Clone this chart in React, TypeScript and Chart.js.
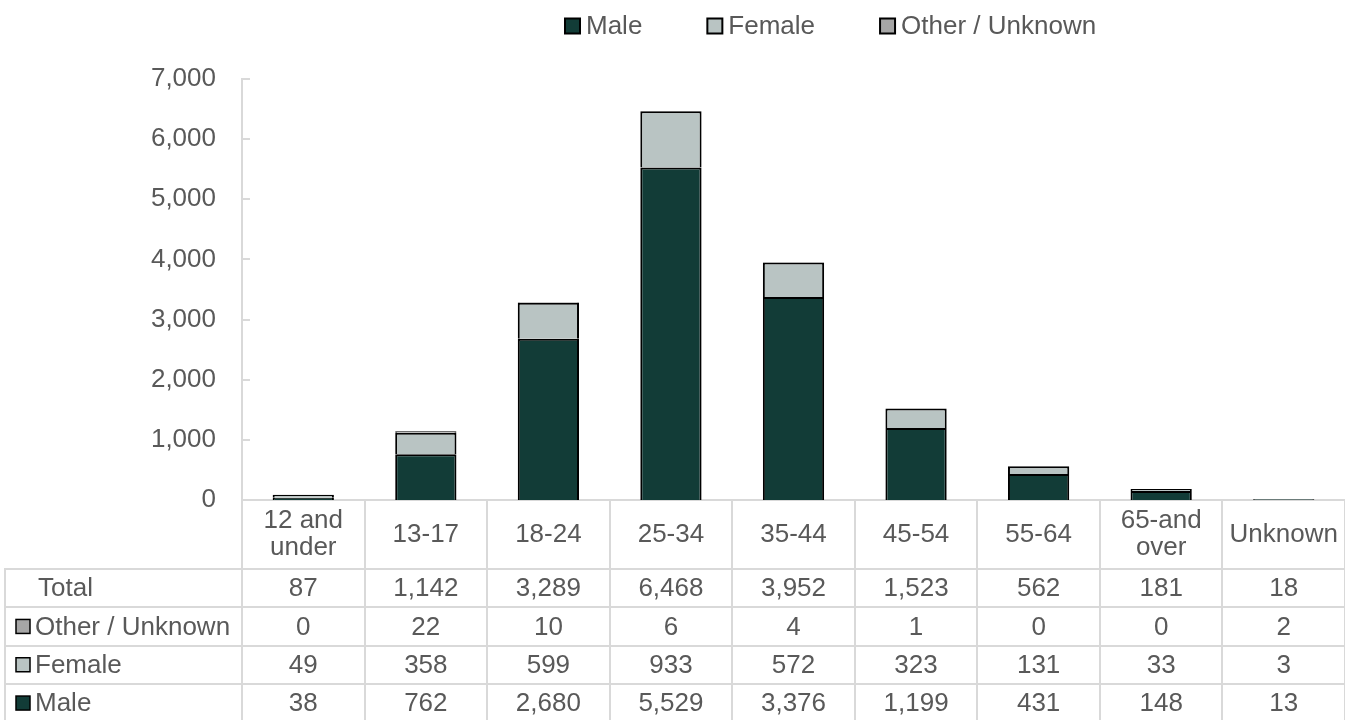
import React, { useEffect, useRef } from 'react';
import { Chart, registerables } from 'chart.js';

Chart.register(...registerables);

const categories: (string | string[])[] = [
  ['12 and', 'under'], '13-17', '18-24', '25-34', '35-44', '45-54', '55-64', ['65-and', 'over'], 'Unknown',
];
const male = [38, 762, 2680, 5529, 3376, 1199, 431, 148, 13];
const female = [49, 358, 599, 933, 572, 323, 131, 33, 3];
const other = [0, 22, 10, 6, 4, 1, 0, 0, 2];
const totals = [87, 1142, 3289, 6468, 3952, 1523, 562, 181, 18];
const seriesNames = ['Male', 'Female', 'Other / Unknown'];
const yMax = 7000;
const yStep = 1000;

const MALE_COLOR = '#123c37';
const FEMALE_COLOR = '#b9c4c3';
const OTHER_COLOR = '#a6a6a6';
const TEXT = '#595959';
const GRID = '#d9d9d9';
const FONT_FAMILY = '"Liberation Sans", Arial, sans-serif';
const FONT_SIZE = 26;

const fmt = (v: number) => v.toLocaleString('en-US');

const tablePlugin = {
  id: 'tableAndLegend',
  afterDraw(chart: any) {
    const ctx: CanvasRenderingContext2D = chart.ctx;
    const xs = chart.scales.x;
    const ys = chart.scales.y;
    const area = chart.chartArea;
    const n = categories.length;
    const colW = (area.right - area.left) / n;
    ctx.save();
    ctx.font = `${FONT_SIZE}px ${FONT_FAMILY}`;

    // inner tick marks on the y axis
    ctx.strokeStyle = GRID;
    ctx.lineWidth = 2;
    ys.ticks.forEach((t: any) => {
      const py = Math.round(ys.getPixelForValue(t.value));
      ctx.beginPath();
      ctx.moveTo(area.left, py);
      ctx.lineTo(area.left + 8, py);
      ctx.stroke();
    });

    // table grid
    const top = area.bottom;
    const headerH = 69;
    const rowH = 38.3;
    const tableLeft = 4;
    const bottom = chart.height;
    const rowTops = [0, 1, 2, 3].map((i) => top + headerH + i * rowH);
    ctx.beginPath();
    rowTops.forEach((ry) => {
      const yy = Math.round(ry);
      ctx.moveTo(tableLeft, yy);
      ctx.lineTo(area.right, yy);
    });
    ctx.moveTo(tableLeft + 1, Math.round(rowTops[0]));
    ctx.lineTo(tableLeft + 1, bottom);
    for (let i = 0; i <= n; i++) {
      const lx = Math.round(area.left + i * colW);
      ctx.moveTo(lx, top);
      ctx.lineTo(lx, bottom);
    }
    ctx.stroke();

    // header labels
    ctx.fillStyle = TEXT;
    ctx.textAlign = 'center';
    ctx.textBaseline = 'middle';
    const headerMid = top + headerH / 2;
    categories.forEach((c, i) => {
      const cx = xs.getPixelForValue(i);
      const lines = Array.isArray(c) ? c : [c];
      const lh = 27;
      lines.forEach((l, j) => {
        const ly = headerMid + (j - (lines.length - 1) / 2) * lh;
        ctx.fillText(l, cx, ly);
      });
    });

    // rows
    const rows = [
      { label: 'Total', values: totals, color: null as string | null },
      { label: seriesNames[2], values: other, color: OTHER_COLOR },
      { label: seriesNames[1], values: female, color: FEMALE_COLOR },
      { label: seriesNames[0], values: male, color: MALE_COLOR },
    ];
    rows.forEach((r, ri) => {
      const cy = rowTops[ri] + rowH / 2;
      if (r.color) {
        ctx.fillStyle = r.color;
        ctx.fillRect(16, cy - 7, 14, 14);
        ctx.strokeStyle = '#000';
        ctx.lineWidth = 1.5;
        ctx.strokeRect(16, cy - 7, 14, 14);
      }
      ctx.fillStyle = TEXT;
      ctx.textAlign = 'left';
      ctx.fillText(r.label, r.color ? 35 : 38, cy + 1);
      ctx.textAlign = 'center';
      r.values.forEach((v, i) => {
        ctx.fillText(fmt(v), xs.getPixelForValue(i), cy + 1);
      });
    });

    // legend
    const legendColors = [MALE_COLOR, FEMALE_COLOR, OTHER_COLOR];
    let lx = 565;
    const ly = 26;
    ctx.textAlign = 'left';
    seriesNames.forEach((name, i) => {
      ctx.fillStyle = legendColors[i];
      ctx.fillRect(lx, ly - 7.5, 15, 15);
      ctx.strokeStyle = '#000';
      ctx.lineWidth = 2;
      ctx.strokeRect(lx, ly - 7.5, 15, 15);
      ctx.fillStyle = TEXT;
      ctx.fillText(name, lx + 21, ly + 1);
      lx += 21 + ctx.measureText(name).width + 65;
    });
    ctx.restore();
  },
};

export default function App() {
  const canvasRef = useRef<HTMLCanvasElement | null>(null);

  useEffect(() => {
    if (!canvasRef.current) return;
    const labels = categories.map((c) => (Array.isArray(c) ? c.join(' ') : c));
    const common = { borderColor: '#000', borderWidth: 2, borderSkipped: 'start' as const, barPercentage: 0.5, categoryPercentage: 1 };
    const chart = new Chart(canvasRef.current, {
      type: 'bar',
      data: {
        labels,
        datasets: [
          { label: seriesNames[0], data: male, backgroundColor: MALE_COLOR, ...common },
          { label: seriesNames[1], data: female, backgroundColor: FEMALE_COLOR, ...common },
          { label: seriesNames[2], data: other, backgroundColor: OTHER_COLOR, ...common },
        ],
      },
      options: {
        animation: false,
        responsive: true,
        maintainAspectRatio: false,
        layout: { padding: { top: 79, left: 0, right: 0, bottom: 0 } },
        plugins: { legend: { display: false }, tooltip: { enabled: false } },
        scales: {
          x: {
            stacked: true,
            ticks: { display: false },
            grid: { display: false, drawTicks: false },
            border: { display: true, color: GRID, width: 2 },
            afterFit: (s: any) => { s.height = 220; },
          },
          y: {
            stacked: true,
            min: 0,
            max: yMax,
            ticks: {
              stepSize: yStep,
              padding: 26,
              color: TEXT,
              font: { family: FONT_FAMILY, size: FONT_SIZE },
              callback: (v: any) => fmt(Number(v)),
            },
            grid: { display: false, drawTicks: false },
            border: { display: true, color: GRID, width: 2 },
            afterFit: (s: any) => { s.width = 242; },
          },
        },
      },
      plugins: [tablePlugin],
    });
    return () => chart.destroy();
  }, []);

  return (
    <div style={{ position: 'absolute', left: 0, top: 0, width: 1345, height: 720, background: '#fff' }}>
      <canvas ref={canvasRef} />
    </div>
  );
}
